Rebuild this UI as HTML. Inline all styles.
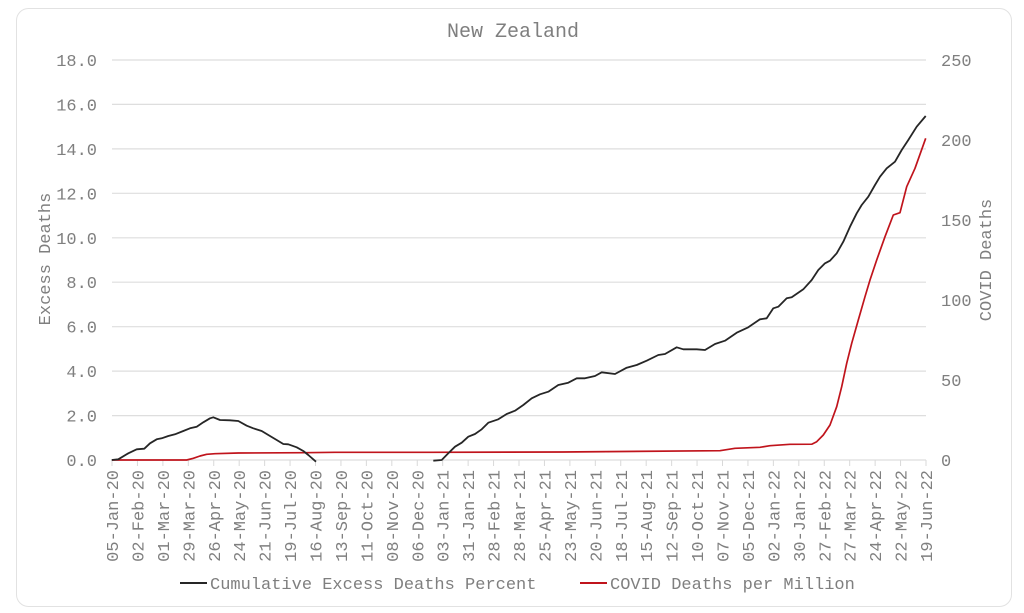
<!DOCTYPE html>
<html><head><meta charset="utf-8"><style>
html,body{margin:0;padding:0;background:#fff;}
svg{display:block;}
text{font-family:"Liberation Mono",monospace;fill:#7f7f7f;}
</style></head><body>
<svg width="1024" height="613" viewBox="0 0 1024 613" xmlns="http://www.w3.org/2000/svg">
<rect x="16.5" y="8.5" width="995" height="598" rx="12" ry="12" fill="#fff" stroke="#e2e2e2" stroke-width="1"/>
<text x="513" y="37" font-size="20" text-anchor="middle">New Zealand</text>
<g stroke="#dedede" stroke-width="1.2">
<line x1="112" y1="60" x2="926" y2="60"/>
<line x1="112" y1="104.4" x2="926" y2="104.4"/>
<line x1="112" y1="148.9" x2="926" y2="148.9"/>
<line x1="112" y1="193.3" x2="926" y2="193.3"/>
<line x1="112" y1="237.8" x2="926" y2="237.8"/>
<line x1="112" y1="282.2" x2="926" y2="282.2"/>
<line x1="112" y1="326.7" x2="926" y2="326.7"/>
<line x1="112" y1="371.1" x2="926" y2="371.1"/>
<line x1="112" y1="415.6" x2="926" y2="415.6"/>
<line x1="112" y1="460" x2="926" y2="460"/>
</g>
<g font-size="17" text-anchor="end">
<text x="97" y="66">18.0</text>
<text x="97" y="110.4">16.0</text>
<text x="97" y="154.9">14.0</text>
<text x="97" y="199.3">12.0</text>
<text x="97" y="243.8">10.0</text>
<text x="97" y="288.2">8.0</text>
<text x="97" y="332.7">6.0</text>
<text x="97" y="377.1">4.0</text>
<text x="97" y="421.6">2.0</text>
<text x="97" y="466">0.0</text>
</g>
<g font-size="17" style="font-family:'Liberation Sans',sans-serif">
<text x="941" y="66">250</text>
<text x="941" y="146">200</text>
<text x="941" y="226">150</text>
<text x="941" y="306">100</text>
<text x="941" y="386">50</text>
<text x="941" y="466">0</text>
</g>
<text font-size="17" text-anchor="middle" transform="translate(50,259) rotate(-90)">Excess Deaths</text>
<text font-size="17" text-anchor="middle" transform="translate(991,260) rotate(-90)">COVID Deaths</text>
<g stroke="#d9d9d9" stroke-width="1">
<line x1="112" y1="460" x2="112" y2="466"/>
<line x1="137.44" y1="460" x2="137.44" y2="466"/>
<line x1="162.88" y1="460" x2="162.88" y2="466"/>
<line x1="188.31" y1="460" x2="188.31" y2="466"/>
<line x1="213.75" y1="460" x2="213.75" y2="466"/>
<line x1="239.19" y1="460" x2="239.19" y2="466"/>
<line x1="264.63" y1="460" x2="264.63" y2="466"/>
<line x1="290.06" y1="460" x2="290.06" y2="466"/>
<line x1="315.5" y1="460" x2="315.5" y2="466"/>
<line x1="340.94" y1="460" x2="340.94" y2="466"/>
<line x1="366.38" y1="460" x2="366.38" y2="466"/>
<line x1="391.81" y1="460" x2="391.81" y2="466"/>
<line x1="417.25" y1="460" x2="417.25" y2="466"/>
<line x1="442.69" y1="460" x2="442.69" y2="466"/>
<line x1="468.13" y1="460" x2="468.13" y2="466"/>
<line x1="493.56" y1="460" x2="493.56" y2="466"/>
<line x1="519" y1="460" x2="519" y2="466"/>
<line x1="544.44" y1="460" x2="544.44" y2="466"/>
<line x1="569.88" y1="460" x2="569.88" y2="466"/>
<line x1="595.31" y1="460" x2="595.31" y2="466"/>
<line x1="620.75" y1="460" x2="620.75" y2="466"/>
<line x1="646.19" y1="460" x2="646.19" y2="466"/>
<line x1="671.63" y1="460" x2="671.63" y2="466"/>
<line x1="697.06" y1="460" x2="697.06" y2="466"/>
<line x1="722.5" y1="460" x2="722.5" y2="466"/>
<line x1="747.94" y1="460" x2="747.94" y2="466"/>
<line x1="773.38" y1="460" x2="773.38" y2="466"/>
<line x1="798.81" y1="460" x2="798.81" y2="466"/>
<line x1="824.25" y1="460" x2="824.25" y2="466"/>
<line x1="849.69" y1="460" x2="849.69" y2="466"/>
<line x1="875.13" y1="460" x2="875.13" y2="466"/>
<line x1="900.56" y1="460" x2="900.56" y2="466"/>
<line x1="926" y1="460" x2="926" y2="466"/>
</g>
<g font-size="17" text-anchor="end">
<text transform="translate(118,470) rotate(-90)">05-Jan-20</text>
<text transform="translate(143.44,470) rotate(-90)">02-Feb-20</text>
<text transform="translate(168.88,470) rotate(-90)">01-Mar-20</text>
<text transform="translate(194.31,470) rotate(-90)">29-Mar-20</text>
<text transform="translate(219.75,470) rotate(-90)">26-Apr-20</text>
<text transform="translate(245.19,470) rotate(-90)">24-May-20</text>
<text transform="translate(270.63,470) rotate(-90)">21-Jun-20</text>
<text transform="translate(296.06,470) rotate(-90)">19-Jul-20</text>
<text transform="translate(321.5,470) rotate(-90)">16-Aug-20</text>
<text transform="translate(346.94,470) rotate(-90)">13-Sep-20</text>
<text transform="translate(372.38,470) rotate(-90)">11-Oct-20</text>
<text transform="translate(397.81,470) rotate(-90)">08-Nov-20</text>
<text transform="translate(423.25,470) rotate(-90)">06-Dec-20</text>
<text transform="translate(448.69,470) rotate(-90)">03-Jan-21</text>
<text transform="translate(474.13,470) rotate(-90)">31-Jan-21</text>
<text transform="translate(499.56,470) rotate(-90)">28-Feb-21</text>
<text transform="translate(525,470) rotate(-90)">28-Mar-21</text>
<text transform="translate(550.44,470) rotate(-90)">25-Apr-21</text>
<text transform="translate(575.88,470) rotate(-90)">23-May-21</text>
<text transform="translate(601.31,470) rotate(-90)">20-Jun-21</text>
<text transform="translate(626.75,470) rotate(-90)">18-Jul-21</text>
<text transform="translate(652.19,470) rotate(-90)">15-Aug-21</text>
<text transform="translate(677.63,470) rotate(-90)">12-Sep-21</text>
<text transform="translate(703.06,470) rotate(-90)">10-Oct-21</text>
<text transform="translate(728.5,470) rotate(-90)">07-Nov-21</text>
<text transform="translate(753.94,470) rotate(-90)">05-Dec-21</text>
<text transform="translate(779.38,470) rotate(-90)">02-Jan-22</text>
<text transform="translate(804.81,470) rotate(-90)">30-Jan-22</text>
<text transform="translate(830.25,470) rotate(-90)">27-Feb-22</text>
<text transform="translate(855.69,470) rotate(-90)">27-Mar-22</text>
<text transform="translate(881.13,470) rotate(-90)">24-Apr-22</text>
<text transform="translate(906.56,470) rotate(-90)">22-May-22</text>
<text transform="translate(932,470) rotate(-90)">19-Jun-22</text>
</g>
<polyline fill="none" stroke="#c0141c" stroke-width="1.7" stroke-linejoin="round" points="112,460 186.7,460 193.3,458.3 200,456 206.7,454.3 215,453.7 238.3,453 305,452.7 335,452.3 430,452.3 563,452 720,450.7 735,448.3 760,447.3 770,445.7 790,444.3 811.7,444.2 816.7,441.7 823.3,435 830,425 836.7,406.7 841.7,386.7 846.7,363.3 851.7,343.3 858.3,320 865,296.7 870,280 876.7,260 885,236.7 893.3,215 900,212.7 906.7,186.7 915,168.3 925.7,138.3"/>
<polyline fill="none" stroke="#262626" stroke-width="1.8" stroke-linejoin="round" points="111.7,460 118.3,459.3 128.3,453.3 136.7,449.3 144.3,448.7 150,443.3 156.7,439.3 161.7,438.3 168.3,436 175,434.3 183.3,431 190,428.3 196.7,426.7 203.3,422.3 210,418.3 213.3,417.3 220,420 230,420.3 238.3,421 246.7,425.7 253.3,428.3 261.7,431 270,436 276.7,440 283.3,444 288.3,444.3 296.7,447.3 303.3,451 308.3,455 316,461.7"/>
<polyline fill="none" stroke="#262626" stroke-width="1.8" stroke-linejoin="round" points="433.3,460.7 441.7,460 448.3,453.3 455,446.7 461.7,442.7 468.3,436.7 475,434 481.7,429.3 488.3,422.7 498.3,419.3 506.7,414 515,410.7 523.3,405 531.7,398.3 540,394.3 548.3,391.7 558.3,385 568.3,382.7 576.7,378.3 585,378.3 595,376 601.7,372.3 615,374 626.7,367.7 636.7,365 646.7,360.7 658.3,355 665,354 676.7,347.3 683.3,349.3 696.7,349.3 705,350 715,344 725,340.7 736.7,332.7 748.3,327.3 760,319.3 766.7,318.3 773.3,308.3 778.3,306.7 786.7,298.3 791.7,297.3 803.3,289.3 811.7,280 818.3,270 825,263.3 830,260.7 836.7,253.3 843.3,241.7 850,226.7 856.7,213.3 861.7,205 868.3,196.7 875,185 880,176.7 886.7,168.3 895,161.7 901.7,150 908.3,140 916.7,126.7 925.7,116"/>
<line x1="180" y1="583" x2="207" y2="583" stroke="#262626" stroke-width="2"/>
<text x="210" y="589" font-size="17">Cumulative Excess Deaths Percent</text>
<line x1="580" y1="583" x2="607" y2="583" stroke="#c0141c" stroke-width="2"/>
<text x="610" y="589" font-size="17">COVID Deaths per Million</text>
</svg>
</body></html>
